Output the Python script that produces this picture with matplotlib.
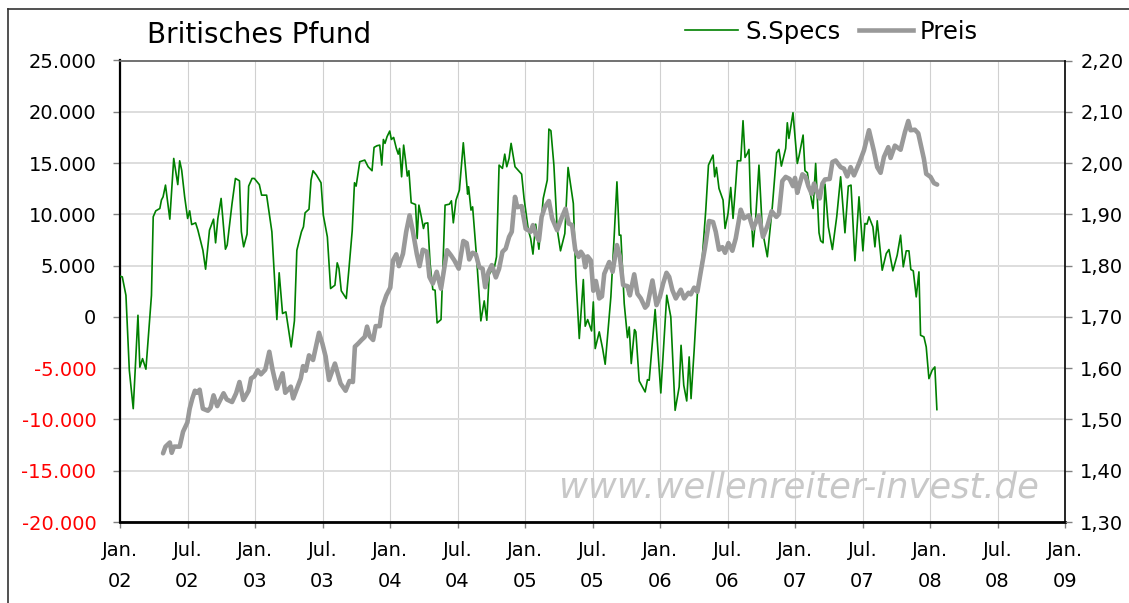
import numpy as np
import matplotlib.pyplot as plt
from matplotlib.lines import Line2D

plt.rcParams['font.family'] = ['DejaVu Sans']

# S.Specs (net speculative position), x = years since Jan. 2002
specs_t = [0.000, 0.017, 0.044, 0.069, 0.098, 0.133, 0.147, 0.167, 0.192, 0.233,
           0.246, 0.265, 0.295, 0.307, 0.319, 0.337, 0.369, 0.398, 0.428, 0.442,
           0.457, 0.479, 0.501, 0.516, 0.531, 0.560, 0.577, 0.614, 0.634, 0.663,
           0.693, 0.708, 0.725, 0.749, 0.781, 0.794, 0.830, 0.855, 0.885, 0.899,
           0.916, 0.941, 0.953, 0.978, 0.995, 1.032, 1.049, 1.086, 1.125, 1.162,
           1.179, 1.204, 1.229, 1.268, 1.292, 1.310, 1.344, 1.359, 1.371, 1.400,
           1.415, 1.430, 1.455, 1.489, 1.506, 1.536, 1.560, 1.592, 1.609, 1.622,
           1.639, 1.676, 1.695, 1.720, 1.737, 1.749, 1.776, 1.813, 1.838, 1.867,
           1.882, 1.904, 1.924, 1.939, 1.951, 1.963, 1.978, 1.998, 2.010, 2.027,
           2.047, 2.061, 2.071, 2.086, 2.101, 2.115, 2.128, 2.140, 2.157, 2.189,
           2.201, 2.214, 2.231, 2.248, 2.258, 2.280, 2.297, 2.317, 2.334, 2.349,
           2.378, 2.408, 2.440, 2.455, 2.469, 2.489, 2.514, 2.543, 2.575, 2.582,
           2.600, 2.612, 2.641, 2.673, 2.698, 2.717, 2.735, 2.754, 2.774, 2.789,
           2.808, 2.833, 2.850, 2.865, 2.882, 2.897, 2.926, 2.975, 2.993, 3.025,
           3.042, 3.059, 3.079, 3.103, 3.135, 3.165, 3.177, 3.192, 3.214, 3.238,
           3.263, 3.295, 3.319, 3.358, 3.377, 3.402, 3.432, 3.446, 3.464, 3.493,
           3.506, 3.520, 3.550, 3.575, 3.594, 3.636, 3.661, 3.681, 3.698, 3.710,
           3.735, 3.759, 3.772, 3.787, 3.811, 3.821, 3.846, 3.890, 3.907, 3.920,
           3.964, 4.006, 4.050, 4.080, 4.112, 4.142, 4.156, 4.176, 4.198, 4.216,
           4.230, 4.253, 4.277, 4.314, 4.339, 4.359, 4.393, 4.405, 4.418, 4.437,
           4.467, 4.482, 4.504, 4.524, 4.541, 4.561, 4.573, 4.598, 4.615, 4.630,
           4.647, 4.659, 4.672, 4.689, 4.709, 4.733, 4.758, 4.795, 4.832, 4.864,
           4.881, 4.899, 4.931, 4.943, 4.955, 4.985, 5.017, 5.030, 5.060, 5.074,
           5.092, 5.111, 5.134, 5.153, 5.166, 5.178, 5.190, 5.208, 5.222, 5.247,
           5.277, 5.309, 5.338, 5.370, 5.395, 5.415, 5.444, 5.474, 5.503, 5.518,
           5.533, 5.548, 5.577, 5.592, 5.609, 5.646, 5.676, 5.696, 5.725, 5.757,
           5.782, 5.802, 5.824, 5.844, 5.858, 5.876, 5.898, 5.918, 5.930, 5.955,
           5.972, 5.992, 6.016, 6.036, 6.051]
specs_v = [3970, 3900, 2100, -5200, -8950, 160, -4900, -4070, -5100, 2100,
           9760, 10340, 10570, 11400, 11700, 12850, 9530, 15450, 12900, 15220,
           14300, 11700, 9600, 10340, 9000, 9170, 8460, 6500, 4650, 8460,
           9530, 7220, 9600, 11550, 6600, 7000, 11060, 13500, 13270, 8300,
           6830, 8070, 12750, 13500, 13500, 12900, 11870, 11870, 8300, -260,
           4300, 330, 490, -2930, -390, 6500, 8300, 8780, 10150, 10500,
           13340, 14250, 13830, 13080, 9920, 7800, 2765, 3090, 5270, 4720,
           2540, 1790, 4550, 8390, 13080, 12750, 15130, 15290, 14640, 14250,
           16530, 16690, 16750, 14800, 17300, 16920, 17570, 18120, 17300, 17500,
           16430, 15870, 16430, 13660, 16750, 15290, 13730, 14250, 11130, 10960,
           7640, 10900, 9820, 8620, 9110, 9170, 5200, 2670, 2600, -590,
           -260, 10900, 10990, 11320, 9170, 11390, 12360, 16980, 11970, 12690,
           10410, 10730, 5860, -390, 1560, -330, 4160, 4550, 4880, 5860,
           14800, 14480, 15870, 14640, 15450, 16920, 14640, 13920, 11550, 8460,
           7640, 6120, 9040, 6600, 11550, 13340, 18310, 18150, 14800, 8620,
           6440, 8130, 14570, 11060, 3900, -2110, 3640, -910, -260, -1370,
           1460, -3090, -1460, -3090, -4620, 1950, 7970, 13170, 7970, 7970,
           1300, -2020, -980, -4550, -1240, -1460, -6250, -7320, -6120, -6180,
           720, -7420, 2110, 0, -9110, -6830, -2770, -6670, -8200, -3900,
           -7970, -3250, 2280, 5920, 10410, 14800, 15780, 13660, 14570, 12520,
           11390, 8620, 10080, 12620, 9600, 12950, 15220, 15220, 19130, 15550,
           15940, 16330, 10730, 6830, 9690, 14800, 8460, 5860, 10730, 16000,
           16330, 14700, 16430, 18930, 17400, 19910, 14960, 15680, 17730, 14250,
           14050, 12200, 10570, 14960, 11390, 8200, 7420, 7220, 12950, 8780,
           6570, 9760, 13660, 8200, 12750, 12850, 5470, 11710, 6440, 9110,
           9040, 9760, 8780, 6830, 9370, 4550, 6180, 6570, 4490, 6020,
           7970, 4880, 6440, 6440, 4620, 4490, 1950, 4390, -1790, -1950,
           -2930, -6020, -5200, -4880, -9040]

# Preis (GBP/USD), x = years since Jan. 2002
preis_t = [0.319, 0.337, 0.369, 0.383, 0.400, 0.442, 0.467, 0.499, 0.516, 0.536,
           0.555, 0.570, 0.590, 0.614, 0.651, 0.671, 0.693, 0.720, 0.767, 0.791,
           0.830, 0.860, 0.885, 0.914, 0.953, 0.971, 0.995, 1.020, 1.044, 1.076,
           1.106, 1.130, 1.162, 1.204, 1.224, 1.265, 1.283, 1.339, 1.356, 1.376,
           1.400, 1.430, 1.474, 1.499, 1.523, 1.548, 1.592, 1.634, 1.671, 1.700,
           1.725, 1.740, 1.764, 1.789, 1.813, 1.830, 1.850, 1.875, 1.894, 1.924,
           1.943, 1.973, 2.002, 2.022, 2.047, 2.066, 2.096, 2.120, 2.145, 2.170,
           2.199, 2.219, 2.243, 2.273, 2.292, 2.317, 2.346, 2.378, 2.403, 2.423,
           2.452, 2.477, 2.509, 2.543, 2.568, 2.587, 2.612, 2.636, 2.661, 2.686,
           2.705, 2.730, 2.754, 2.784, 2.808, 2.833, 2.857, 2.882, 2.902, 2.926,
           2.943, 2.975, 3.005, 3.042, 3.059, 3.079, 3.103, 3.123, 3.147, 3.177,
           3.201, 3.238, 3.270, 3.300, 3.324, 3.349, 3.372, 3.397, 3.414, 3.432,
           3.446, 3.464, 3.488, 3.506, 3.525, 3.550, 3.570, 3.587, 3.624, 3.649,
           3.681, 3.703, 3.727, 3.759, 3.777, 3.809, 3.833, 3.858, 3.890, 3.907,
           3.944, 3.974, 3.999, 4.023, 4.048, 4.068, 4.092, 4.117, 4.154, 4.179,
           4.211, 4.228, 4.253, 4.277, 4.302, 4.334, 4.363, 4.393, 4.413, 4.437,
           4.462, 4.482, 4.507, 4.536, 4.561, 4.598, 4.622, 4.659, 4.689, 4.733,
           4.763, 4.795, 4.827, 4.862, 4.881, 4.906, 4.931, 4.960, 4.985, 5.000,
           5.017, 5.030, 5.055, 5.079, 5.099, 5.124, 5.141, 5.166, 5.183, 5.203,
           5.222, 5.257, 5.277, 5.301, 5.338, 5.363, 5.387, 5.412, 5.437, 5.474,
           5.511, 5.548, 5.585, 5.609, 5.634, 5.659, 5.691, 5.708, 5.740, 5.782,
           5.814, 5.839, 5.856, 5.888, 5.913, 5.955, 5.972, 6.004, 6.029, 6.053]
preis_v = [1.434, 1.447, 1.455, 1.435, 1.447, 1.447, 1.476, 1.494, 1.521, 1.541,
           1.556, 1.552, 1.558, 1.521, 1.517, 1.523, 1.547, 1.526, 1.551, 1.539,
           1.534, 1.551, 1.573, 1.538, 1.556, 1.580, 1.584, 1.596, 1.588, 1.597,
           1.632, 1.597, 1.560, 1.590, 1.552, 1.564, 1.541, 1.580, 1.604, 1.595,
           1.625, 1.616, 1.669, 1.648, 1.623, 1.577, 1.609, 1.570, 1.556, 1.575,
           1.573, 1.642, 1.648, 1.655, 1.661, 1.681, 1.662, 1.655, 1.682, 1.682,
           1.719, 1.742, 1.757, 1.810, 1.822, 1.799, 1.823, 1.866, 1.898, 1.866,
           1.822, 1.799, 1.831, 1.827, 1.778, 1.765, 1.788, 1.755, 1.797, 1.830,
           1.820, 1.810, 1.794, 1.848, 1.844, 1.812, 1.825, 1.822, 1.797, 1.794,
           1.758, 1.788, 1.801, 1.777, 1.794, 1.827, 1.833, 1.856, 1.866, 1.934,
           1.914, 1.916, 1.872, 1.866, 1.879, 1.862, 1.849, 1.895, 1.914, 1.926,
           1.892, 1.869, 1.892, 1.911, 1.882, 1.879, 1.831, 1.817, 1.827, 1.820,
           1.797, 1.818, 1.810, 1.751, 1.770, 1.736, 1.740, 1.784, 1.807, 1.788,
           1.840, 1.817, 1.762, 1.760, 1.742, 1.783, 1.745, 1.736, 1.718, 1.723,
           1.771, 1.723, 1.739, 1.765, 1.786, 1.778, 1.752, 1.736, 1.753, 1.736,
           1.747, 1.744, 1.757, 1.749, 1.788, 1.836, 1.887, 1.885, 1.866, 1.831,
           1.836, 1.825, 1.844, 1.829, 1.853, 1.909, 1.892, 1.898, 1.872, 1.898,
           1.856, 1.877, 1.906, 1.895, 1.901, 1.965, 1.973, 1.969, 1.955, 1.971,
           1.942, 1.955, 1.978, 1.973, 1.955, 1.940, 1.960, 1.942, 1.931, 1.960,
           1.968, 1.969, 2.002, 2.005, 1.992, 1.989, 1.974, 1.992, 1.976, 1.999,
           2.025, 2.064, 2.023, 1.992, 1.981, 2.012, 2.031, 2.010, 2.034, 2.026,
           2.060, 2.082, 2.064, 2.065, 2.058, 2.008, 1.979, 1.973, 1.961, 1.958]

x_ticks = np.arange(2002, 2009.01, 0.5)
x_labels = ['Jan.\n02', 'Jul.\n02', 'Jan.\n03', 'Jul.\n03', 'Jan.\n04', 'Jul.\n04',
            'Jan.\n05', 'Jul.\n05', 'Jan.\n06', 'Jul.\n06', 'Jan.\n07', 'Jul.\n07',
            'Jan.\n08', 'Jul.\n08', 'Jan.\n09']
left_ticks = np.arange(-20000, 25001, 5000)
right_ticks = np.arange(1.30, 2.201, 0.10)

W, H = 1129, 603
fig = plt.figure(figsize=(W/100, H/100), dpi=100)
ax = fig.add_axes([120/W, 1-522/H, (1065-120)/W, (522-60.5)/H])
ax2 = ax.twinx()

green = '#008000'
grey = '#999999'

ax.plot(2002 + np.array(specs_t), specs_v, color=green, lw=1.2, zorder=3)
ax2.plot(2002 + np.array(preis_t), preis_v, color=grey, lw=3.3,
         solid_joinstyle='round', solid_capstyle='round', zorder=3)

ax.set_xlim(2002, 2009)
ax.set_ylim(-20000, 25000)
ax2.set_ylim(1.30, 2.20)

ax.set_xticks(x_ticks, labels=x_labels)
ax.set_yticks(left_ticks, labels=[f'{v:,.0f}'.replace(',', '.') for v in left_ticks])
ax2.set_yticks(right_ticks, labels=[f'{v:.2f}'.replace('.', ',') for v in right_ticks])

for lbl, v in zip(ax.get_yticklabels(), left_ticks):
    lbl.set_color('#ff0000' if v < 0 else 'black')
for lbl in ax.get_xticklabels():
    lbl.set_linespacing(1.75)

ax.set_axisbelow(True)
ax.grid(axis='y', color='#dddddd', lw=1.4)
ax.grid(axis='x', color='#d0d0d0', lw=0.8)

ax.tick_params(axis='y', direction='out', length=5, width=1, color='#808080',
               labelsize=14, pad=12)
ax.tick_params(axis='x', direction='out', length=4, width=1, color='#808080',
               labelsize=14, pad=10)
ax2.tick_params(axis='y', direction='out', length=5, width=1, color='#808080',
                labelsize=14, pad=6)

ax.spines['left'].set_linewidth(1.6)
ax.spines['bottom'].set_linewidth(2.0)
ax.spines['top'].set_color('#666666')
ax.spines['top'].set_linewidth(1.3)
ax.spines['right'].set_visible(False)
for s in ['left', 'top', 'bottom']:
    ax2.spines[s].set_visible(False)
ax2.spines['right'].set_linewidth(1.2)

ax.text(0.718, 0.074, 'www.wellenreiter-invest.de', transform=ax.transAxes,
        ha='center', va='center', fontsize=25.5, style='italic', color='#c8c8c8',
        zorder=1)

fig.text(147/W, 1-35/H, 'Britisches Pfund', fontsize=20, va='center', ha='left')

handles = [Line2D([], [], color=green, lw=1.2), Line2D([], [], color=grey, lw=3.3)]
fig.legend(handles, ['S.Specs', 'Preis'], loc='center left',
           bbox_to_anchor=(685/W, 1-32/H), ncol=2, frameon=False, fontsize=17.5,
           handlelength=2.2, handletextpad=0.3, columnspacing=0.75,
           borderpad=0, borderaxespad=0)

# outer chart frame (top and left edges visible)
fig.add_artist(Line2D([7.5/W, 7.5/W], [0, 1-8.5/H], color='#333333', lw=1.2,
                      transform=fig.transFigure))
fig.add_artist(Line2D([7.5/W, 1], [1-8.5/H, 1-8.5/H], color='#333333', lw=1.2,
                      transform=fig.transFigure))

fig.savefig('out.png', dpi=100)
